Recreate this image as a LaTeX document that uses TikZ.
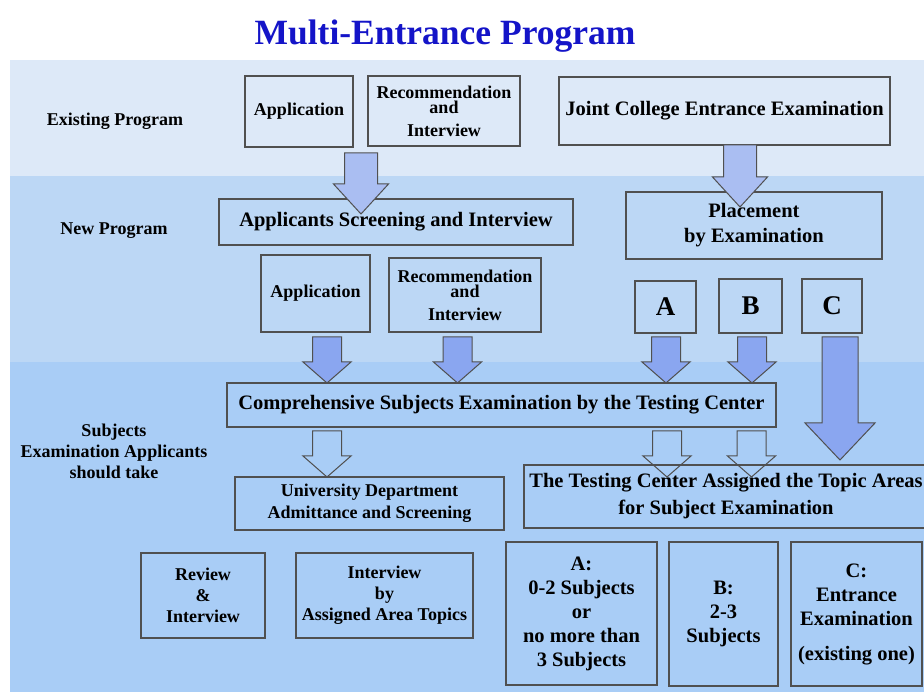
\documentclass[tikz,border=0pt]{standalone}
\usepackage{fontspec}
\setmainfont{Liberation Serif}
\usetikzlibrary{calc}

\definecolor{bandtop}{RGB}{221,233,248}
\definecolor{bandmid}{RGB}{188,215,245}
\definecolor{bandlow}{RGB}{169,205,246}
\definecolor{arrowlight}{RGB}{170,190,242}
\definecolor{arrowdark}{RGB}{138,166,240}
\definecolor{titleblue}{RGB}{20,20,200}
\definecolor{edge}{RGB}{80,80,80}

% block arrow: style, top of stem, tip, stem half width, head half width, head length
\newcommand\fatarrow[6]{%
  \path[fat,#1] let \p1=(#2), \p2=(#3) in
    (\x1-#4,\y1) -- (\x1+#4,\y1) -- (\x1+#4,\y2+#6) -- (\x1+#5,\y2+#6)
    -- (\x2,\y2) -- (\x1-#5,\y2+#6) -- (\x1-#4,\y2+#6) -- cycle;}

\begin{document}
\begin{tikzpicture}[x=1pt,y=-1pt,
  block/.style={draw=edge,line width=1.2pt,inner sep=0pt,align=center},
  smallfont/.style={font=\fontsize{18}{21}\selectfont\bfseries},
  bigfont/.style={font=\fontsize{20.5}{24}\selectfont\bfseries},
  letterfont/.style={font=\fontsize{27}{30}\selectfont\bfseries},
  fat/.style={draw=edge,line width=1pt}]
\useasboundingbox (0,0) rectangle (924,692);
\fill[white] (0,0) rectangle (924,692);
% the three bands
\fill[bandtop] (10,60) rectangle (924,176);
\fill[bandmid] (10,176) rectangle (924,362);
\fill[bandlow] (10,362) rectangle (924,692);

\node[font=\fontsize{35.5}{40}\selectfont\bfseries,text=titleblue] (title) at (445,36) {Multi-Entrance Program};

% row labels
\begin{scope}[every node/.style={smallfont,align=center}]
\node (existing) at (115,121) {Existing Program};
\node (new) at (114,231) {New Program};
\node (subjects) at (114,451) {Subjects\\Examination Applicants\\should take};
\end{scope}

% existing program
\node[block,smallfont,minimum width=108,minimum height=71] (app1) at (299,111.5) {Application};
\node[block,smallfont,minimum width=152,minimum height=70] (rec1) at (444,111) {Recommendation\\[-6pt]and\\[2pt]Interview};
\node[block,bigfont,minimum width=331,minimum height=68] (jce) at (724.5,111) {Joint College Entrance Examination};

% new program
\node[block,bigfont,minimum width=354,minimum height=46] (asi) at (396,222) {Applicants Screening and Interview};
\node[block,bigfont,minimum width=256,minimum height=67] (pbe) at (754,225.5) {Placement\\[1pt]by Examination};
\node[block,smallfont,minimum width=109,minimum height=77] (app2) at (315.5,293.5) {Application};
\node[block,smallfont,minimum width=152,minimum height=74] (rec2) at (465,295) {Recommendation\\[-6pt]and\\[2pt]Interview};
\node[block,letterfont,minimum width=61,minimum height=52] (selA) at (665.5,307) {A};
\node[block,letterfont,minimum width=63,minimum height=54] (selB) at (750.5,306) {B};
\node[block,letterfont,minimum width=60,minimum height=54] (selC) at (832,306) {C};

% subjects examination
\node[block,bigfont,minimum width=549,minimum height=44] (cse) at (501.5,405) {Comprehensive Subjects Examination by the Testing Center};
\node[block,smallfont,minimum width=269,minimum height=53] (uda) at (369.5,503.5) {University Department\\[1pt]Admittance and Screening};
\node[block,bigfont,minimum width=404,minimum height=63] (tca) at (726,496.5) {The Testing Center Assigned the Topic Areas\\[3pt]for Subject Examination};
\node[block,smallfont,minimum width=124,minimum height=85] (rev) at (203,595.5) {Review\\\&\\Interview};
\node[block,smallfont,minimum width=177,minimum height=85] (iba) at (384.5,595.5) {Interview\\by\\Assigned Area Topics};
\node[block,bigfont,minimum width=151,minimum height=143] (resA) at (581.5,613.5) {A:\\0-2 Subjects\\or\\no more than\\3 Subjects};
\node[block,bigfont,minimum width=109,minimum height=144] (resB) at (723.5,614) {B:\\2-3\\Subjects};
\node[block,bigfont,minimum width=131,minimum height=144] (resC) at (856.5,614) {C:\\Entrance\\Examination\\[11pt](existing one)};

% arrows
\foreach \k/\x/\ya/\yb in {1/361/153/214, 2/740/145/207}{
  \coordinate (top\k) at (\x,\ya); \coordinate (tip\k) at (\x,\yb);
  \fatarrow{fill=arrowlight}{top\k}{tip\k}{16.5}{27.5}{30}
}
\foreach \k/\x in {3/327, 4/457.5, 5/666, 6/752}{
  \coordinate (top\k) at (\x,337); \coordinate (tip\k) at (\x,383);
  \fatarrow{fill=arrowdark}{top\k}{tip\k}{14.5}{24}{21}
}
\coordinate (top7) at (840,337); \coordinate (tip7) at (840,460);
\fatarrow{fill=arrowdark}{top7}{tip7}{18}{35}{37}
\foreach \k/\x in {8/327, 9/667, 10/751.5}{
  \coordinate (top\k) at (\x,431); \coordinate (tip\k) at (\x,477);
  \fatarrow{}{top\k}{tip\k}{14.5}{24}{21}
}
\end{tikzpicture}
\end{document}
